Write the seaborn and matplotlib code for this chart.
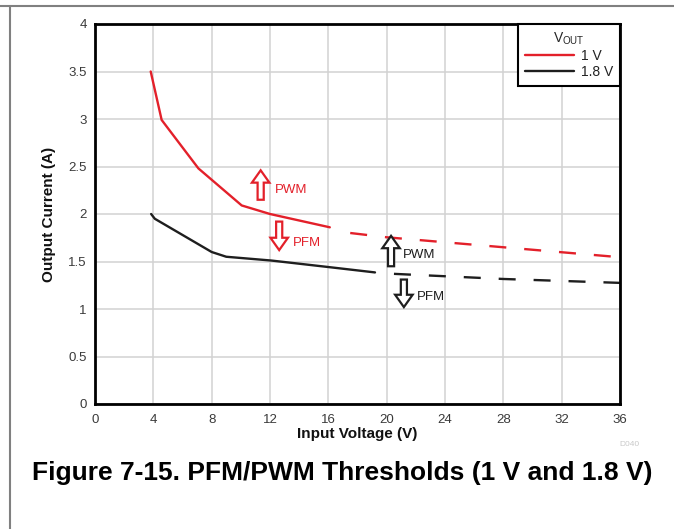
import numpy as np
import matplotlib.pyplot as plt
import matplotlib.lines as mlines
import seaborn as sns
import pandas as pd

##### data #####
red_solid_x = [3.82, 4.57, 7.09, 10.06, 12.0, 16.1]
red_solid_y = [3.50, 2.99, 2.48, 2.09, 2.0, 1.86]
red_dash_x = [17.5, 20.0, 28.0, 36.0]
red_dash_y = [1.80, 1.755, 1.65, 1.545]
black_solid_x = [3.85, 4.1, 8.0, 9.0, 12.1, 16.1, 19.2]
black_solid_y = [2.0, 1.95, 1.60, 1.55, 1.51, 1.44, 1.385]
black_dash_x = [20.5, 28.0, 36.0]
black_dash_y = [1.37, 1.316, 1.275]

series_labels = ['1 V', '1.8 V']
x_ticks = [0, 4, 8, 12, 16, 20, 24, 28, 32, 36]
y_ticks = [0, 0.5, 1, 1.5, 2, 2.5, 3, 3.5, 4]
y_tick_labels = ['0', '0.5', '1', '1.5', '2', '2.5', '3', '3.5', '4']

# mode arrows: x, y_start, y_end, label, text x, text y
red_arrows = [(11.36, 2.15, 2.46, 'PWM', 12.3, 2.25), (12.63, 1.92, 1.62, 'PFM', 13.6, 1.70)]
black_arrows = [(20.3, 1.45, 1.77, 'PWM', 21.1, 1.57), (21.18, 1.31, 1.02, 'PFM', 22.1, 1.125)]

red = '#e3202a'
dark = '#1e1e1e'

##### style #####
sns.set_style('whitegrid')
plt.rcParams['font.family'] = ['Liberation Sans', 'DejaVu Sans']
plt.rcParams['mathtext.fontset'] = 'custom'
plt.rcParams['mathtext.rm'] = 'Liberation Sans'

fig = plt.figure(figsize=(6.74, 5.29), dpi=100)
ax = fig.add_axes([95 / 674, 1 - 404 / 529, 525 / 674, 380 / 529])

lw = 1.7
dash = (0, (7.2, 7.6))
sns.lineplot(x=red_solid_x, y=red_solid_y, color=red, lw=lw, label=series_labels[0], ax=ax)
sns.lineplot(x=red_dash_x, y=red_dash_y, color=red, lw=lw, linestyle=dash, ax=ax)
sns.lineplot(x=black_solid_x, y=black_solid_y, color=dark, lw=lw, label=series_labels[1], ax=ax)
sns.lineplot(x=black_dash_x, y=black_dash_y, color=dark, lw=lw, linestyle=dash, ax=ax)

for arrows, col in [(red_arrows, red), (black_arrows, dark)]:
    for x, y0, y1, txt, tx, ty in arrows:
        ax.arrow(x, y0, 0, y1 - y0, width=0.42, head_width=1.2, head_length=0.13,
                 length_includes_head=True, fc='white', ec=col, lw=1.6, zorder=5)
        ax.text(tx, ty, txt, color=col, fontsize=9.5, va='center', ha='left')

ax.set_xlim(0, 36)
ax.set_ylim(0, 4)
ax.set_xticks(x_ticks)
ax.set_yticks(y_ticks)
ax.set_yticklabels(y_tick_labels)
ax.grid(True, color='#d2d2d2', lw=1.1)
ax.tick_params(axis='both', length=0, labelsize=9.5, labelcolor='#3a3a3a')
ax.tick_params(axis='x', pad=7)
ax.tick_params(axis='y', pad=6)
for s in ax.spines.values():
    s.set_color('black')
    s.set_linewidth(2)
    s.set_visible(True)

ax.set_xlabel('Input Voltage (V)', fontsize=11, fontweight='bold', labelpad=1, color='#111111')
ax.set_ylabel('Output Current (A)', fontsize=11, fontweight='bold', labelpad=9, color='#111111')

leg = ax.legend(loc='upper right', title='V$_{\\mathregular{OUT}}$', fontsize=10, title_fontsize=10,
                frameon=True, fancybox=False, borderaxespad=0, handlelength=3.5, handletextpad=0.5,
                labelspacing=0.12, borderpad=0.5)
leg.get_frame().set_edgecolor('black')
leg.get_frame().set_linewidth(1.5)
leg.get_frame().set_alpha(1)
for t in leg.get_texts():
    t.set_color('#222222')

fig.text(629 / 674, 1 - 445 / 529, 'D040', fontsize=6, color='#c8c8c8', ha='center', va='center')
fig.text(32 / 674, 1 - 473 / 529, 'Figure 7-15. PFM/PWM Thresholds (1 V and 1.8 V)',
         fontsize=19, fontweight='bold', ha='left', va='center', color='black')

# page frame
fig.add_artist(mlines.Line2D([0, 1], [1 - 6 / 529, 1 - 6 / 529], color='#808080', lw=1.5, transform=fig.transFigure))
fig.add_artist(mlines.Line2D([10 / 674, 10 / 674], [0, 1 - 6 / 529], color='#808080', lw=1.5, transform=fig.transFigure))

fig.savefig('out.png', dpi=100)
